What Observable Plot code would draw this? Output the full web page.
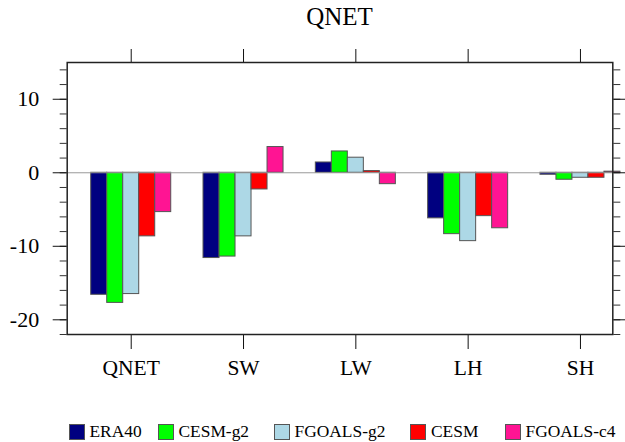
<!DOCTYPE html>
<html>
<head>
<meta charset="utf-8">
<script src="https://cdn.jsdelivr.net/npm/d3@7"></script>
<script src="https://cdn.jsdelivr.net/npm/@observablehq/plot@0.6"></script>
<style>
  html, body { margin: 0; padding: 0; background: #fff; }
  #wrap { position: relative; width: 625px; height: 442px; overflow: hidden; font-family: 'Liberation Serif', 'Times New Roman', Times, serif; }
  #chart { position: absolute; left: 0; top: 0; z-index: 1; }
  #title { position: absolute; left: 339.5px; transform: translateX(-50%); top: 3px; white-space: nowrap; font-size: 25px; color: #000; font-family: 'Liberation Serif', 'Times New Roman', Times, serif; z-index: 2; }
  #legend { position: absolute; top: 0; left: 0; width: 625px; height: 442px; font-size: 17.4px; color: #000; font-family: 'Liberation Serif', 'Times New Roman', Times, serif; z-index: 2; pointer-events: none; }
  .item { position: absolute; top: 421px; display: flex; align-items: center; white-space: nowrap; }
  .sw { width: 16px; height: 16px; border: 1px solid #555; margin-right: 5px; box-sizing: border-box; }
</style>
</head>
<body>
<div id="wrap">
  <div id="chart"></div>
  <div id="title">QNET</div>
  <div id="legend"></div>
</div>
<script>
const categories = ["QNET", "SW", "LW", "LH", "SH"];
const seriesNames = ["ERA40", "CESM-g2", "FGOALS-g2", "CESM", "FGOALS-c4"];
const seriesColors = ["#000080", "#00ff00", "#add8e6", "#ff0000", "#ff1493"];
const ERA40 =      [-16.6, -11.6, 1.4, -6.2, -0.27];
const CESM_g2 =    [-17.7, -11.4, 2.9, -8.35, -0.95];
const FGOALS_g2 =  [-16.5, -8.65, 2.05, -9.3, -0.68];
const CESM =       [-8.65, -2.27, 0.23, -5.9, -0.68];
const FGOALS_c4 =  [-5.35, 3.5, -1.55, -7.55, 0.15];
const yMajorTicks = [-20, -10, 0, 10];

const seriesValues = [ERA40, CESM_g2, FGOALS_g2, CESM, FGOALS_c4];
const barW = 0.1425;
const data = [];
seriesValues.forEach((vals, s) => {
  vals.forEach((v, c) => {
    const x1 = (c + 1) + (s - 2.5) * barW;
    data.push({cat: categories[c], series: seriesNames[s], value: v, x1, x2: x1 + barW});
  });
});

const yMinor = d3.range(-22, 15.01, 2);
const xTicks = categories.map((d, i) => i + 1);
const font = "'Liberation Serif', 'Times New Roman', Times, serif";

const chart = Plot.plot({
  width: 625,
  height: 400,
  marginLeft: 66.7,
  marginRight: 12.7,
  marginTop: 62,
  marginBottom: 66,
  style: {fontFamily: font, background: "transparent", color: "#000", overflow: "visible"},
  x: {domain: [0.43, 5.288], axis: null},
  y: {domain: [-22, 15], axis: null},
  color: {domain: seriesNames, range: seriesColors},
  marks: [
    Plot.rectY(data, {x1: "x1", x2: "x2", y1: 0, y2: "value", fill: "series", stroke: "#555", strokeWidth: 1, inset: 0}),
    Plot.ruleY([0], {stroke: "#999", strokeWidth: 1}),
    Plot.axisY({anchor: "left", label: null, ticks: yMinor, tickSize: 7, tickFormat: () => "", stroke: "#333"}),
    Plot.axisY({anchor: "left", label: null, ticks: yMajorTicks, tickSize: 14, tickPadding: 14, fontSize: 22, fontFamily: font, stroke: "#111", fill: "#000", tickFormat: d => String(d)}),
    Plot.axisY({anchor: "right", label: null, ticks: yMinor, tickSize: 7, tickFormat: () => "", stroke: "#333"}),
    Plot.axisY({anchor: "right", label: null, ticks: yMajorTicks, tickSize: 13, tickFormat: () => "", stroke: "#111"}),
    Plot.axisX({anchor: "top", label: null, ticks: xTicks, tickSize: 14, tickFormat: () => "", stroke: "#111"}),
    Plot.axisX({anchor: "bottom", label: null, ticks: xTicks, tickSize: 15, tickPadding: 10, fontSize: 21.5, fontFamily: font, fill: "#000", stroke: "#111", tickFormat: d => categories[d - 1]}),
    Plot.frame({stroke: "#222", strokeWidth: 1.5})
  ]
});
document.getElementById("chart").appendChild(chart);

const legend = document.getElementById("legend");
const legendLeft = [68.5, 157.5, 273.5, 410, 504.5];
seriesNames.forEach((name, i) => {
  const it = document.createElement("div");
  it.className = "item";
  it.style.left = legendLeft[i] + "px";
  const sw = document.createElement("div");
  sw.className = "sw";
  sw.style.background = seriesColors[i];
  const t = document.createElement("span");
  t.textContent = name;
  it.appendChild(sw);
  it.appendChild(t);
  legend.appendChild(it);
});
</script>
</body>
</html>
